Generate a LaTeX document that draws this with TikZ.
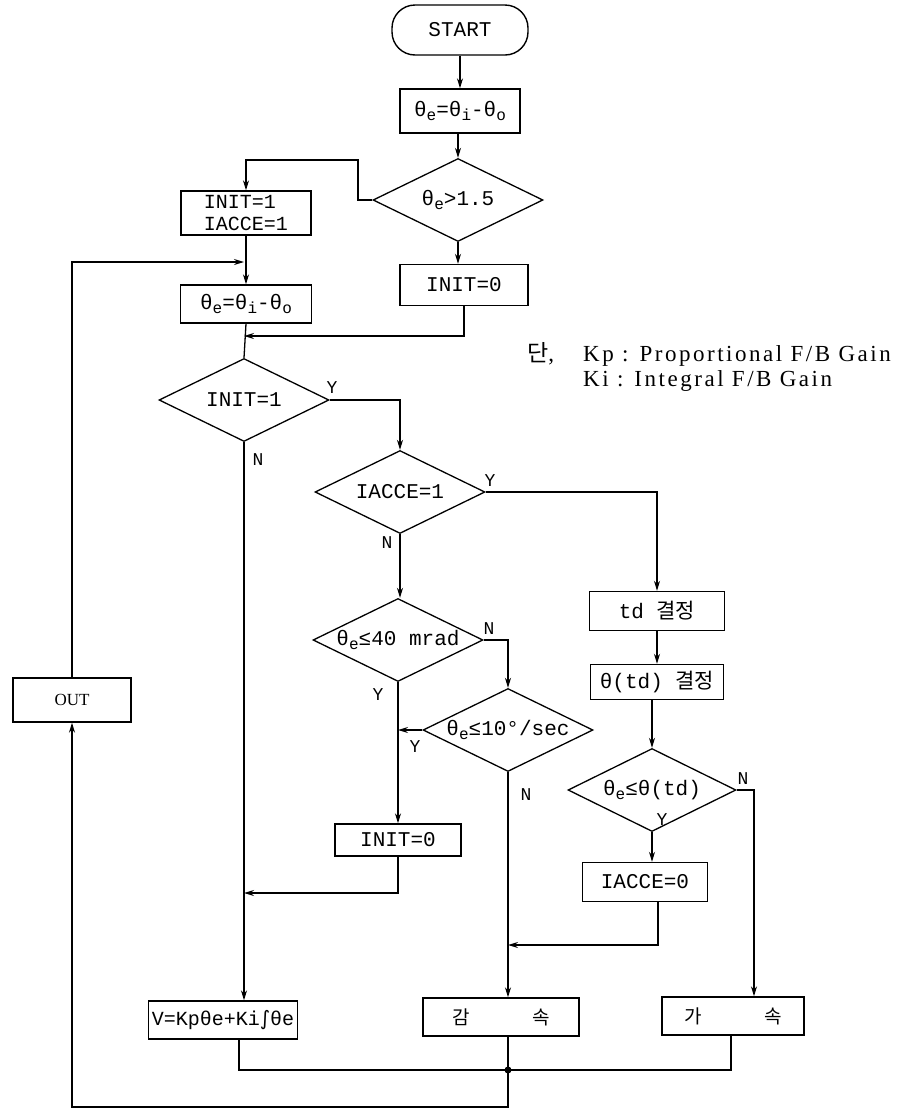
\documentclass[tikz,border=0pt]{standalone}
\usepackage{fontspec}
\setmainfont{Liberation Serif}
\setmonofont{Liberation Mono}
\newfontfamily\kr{Noto Sans CJK KR}
\newfontfamily\dvs{DejaVu Sans}
\newfontfamily\notefont[LetterSpace=11]{Liberation Serif}
\usetikzlibrary{shapes.geometric,arrows.meta,calc}
\newcommand{\thsub}[1]{θ\raisebox{-0.4ex}{\fontsize{16}{18}\selectfont #1}}
\tikzset{
  flow/.style={line width=1.3pt, draw=black},
  arr/.style={flow, -{Stealth[length=10pt,width=6pt]}},
  pbox/.style={draw, line width=1.4pt, rectangle, inner sep=0pt,
    font=\fontsize{21}{23}\selectfont\ttfamily},
  startbox/.style={pbox, rounded corners=23pt},
  dia/.style={draw, line width=1.3pt, diamond, inner sep=0pt,
    minimum width=170pt, minimum height=83pt,
    font=\fontsize{21}{23}\selectfont\ttfamily},
  lab/.style={font=\fontsize{18}{20}\selectfont\ttfamily},
  notetext/.style={anchor=west, inner sep=0pt, font=\fontsize{23}{26}\selectfont\notefont}
}
\begin{document}
\begin{tikzpicture}[x=1pt,y=-1pt]
\useasboundingbox (0,0) rectangle (916,1109);
% nodes
\node[startbox, minimum width=136pt, minimum height=50pt] (start) at (460,30) {START};
\node[pbox, minimum width=120pt, minimum height=44pt] (b1) at (460,111) {\thsub{e}=\thsub{i}-\thsub{o}};
\node[dia] (d1) at (458,200) {\makebox[0pt]{\thsub{e}>1.5}};
\node[pbox, minimum width=128pt, minimum height=41pt] (b2) at (464,285) {INIT=0};
\node[pbox, minimum width=130pt, minimum height=44pt, align=left, font=\fontsize{20}{22}\selectfont\ttfamily] (b3) at (246,213) {INIT=1\\IACCE=1};
\node[pbox, minimum width=131pt, minimum height=38pt] (b4) at (246,304) {\thsub{e}=\thsub{i}-\thsub{o}};
\node[dia] (d2) at (244,400) {\makebox[0pt]{INIT=1}};
\node[dia] (d3) at (400,492) {\makebox[0pt]{IACCE=1}};
\node[dia] (d4) at (398,640) {\makebox[0pt]{\thsub{e}≤40 mrad}};
\node[dia] (d5) at (508,730) {\makebox[0pt]{\thsub{e}≤10°/sec}};
\node[pbox, minimum width=126pt, minimum height=32pt] (b5) at (398,840) {INIT=0};
\node[pbox, minimum width=135pt, minimum height=39pt] (b6) at (657,611) {td {\kr 결정}};
\node[pbox, minimum width=133pt, minimum height=35pt] (b7) at (657,682) {θ(td) {\kr 결정}};
\node[dia, minimum width=168pt] (d6) at (652,790) {\makebox[0pt]{\thsub{e}≤θ(td)}};
\node[pbox, minimum width=125pt, minimum height=39pt] (b8) at (645,882) {IACCE=0};
\node[pbox, minimum width=149pt, minimum height=38pt, font=\fontsize{20}{22}\selectfont\ttfamily] (v) at (223,1020) {V=Kpθe+Ki{\dvs ∫}θe};
\node[pbox, minimum width=156pt, minimum height=38pt, font=\fontsize{19}{22}\selectfont\kr] (dec) at (501,1017) {감\hspace{62pt}속};
\node[pbox, minimum width=142pt, minimum height=38pt, font=\fontsize{19}{22}\selectfont\kr] (acc) at (733,1016) {가\hspace{62pt}속};
\node[pbox, minimum width=118pt, minimum height=44pt, font=\fontsize{17}{20}\selectfont\rmfamily] (out) at (72,700) {OUT};
\coordinate (J) at (508,1070);
\coordinate (k1) at (358,160);
\coordinate (m0) at (244,262);
\coordinate (m1) at (244,336);
\coordinate (m2) at (244,893);
\coordinate (m3) at (508,945);
\coordinate (a1) at (754,0);
\coordinate (bot) at (508,1107);
% connectors
\draw[arr] (start.south) -- (b1.north);
\draw[arr] (d1.north |- b1.south) -- (d1.north);
\draw[arr] (d1.south) -- (d1.south |- b2.north);
\draw[arr] (d1.west) -| (k1) -| (b3.north);
\draw[arr] (out.north) |- (m0);
\draw[arr] (b3.south) -- (b4.north);
\draw[flow] (b4.south) -- (d2.north);
\draw[arr] (b2.south) |- (m1);
\draw[arr] (d2.east) -| (d3.north);
\draw[arr] (d2.south) -- (d2.south |- v.north);
\draw[arr] (d3.south) -- (d3.south |- d4.north);
\draw[arr] (d3.east) -| (b6.north);
\draw[arr] (d4.east) -| (d5.north);
\draw[arr] (d4.south) -- (d4.south |- b5.north);
\draw[arr] (d5.west) -- (d5.west -| d4.south);
\draw[arr] (d5.south) -- (d5.south |- dec.north);
\draw[arr] (b5.south) |- (m2);
\draw[arr] (b6.south) -- (b7.north);
\draw[arr] (d6.north |- b7.south) -- (d6.north);
\draw[arr] (d6.south) -- (d6.south |- b8.north);
\draw[arr] (d6.east) -| (a1 |- acc.north);
\draw[arr] ($(b8.south)+(13,0)$) |- (m3);
\draw[flow] ($(v.south)+(16,0)$) |- (J);
\draw[flow] ($(acc.south)+(-2,0)$) |- (J);
\draw[flow] (J |- dec.south) -- (J);
\draw[arr] (J) -- (bot) -| (out.south);
\fill (J) circle (3.5pt);
% labels
\node[lab] (yd2) at (332,388) {Y};
\node[lab] (nd2) at (258,460) {N};
\node[lab] (yd3) at (490,481) {Y};
\node[lab] (nd3) at (387,543) {N};
\node[lab] (nd4) at (489,629) {N};
\node[lab] (yd4) at (378,695) {Y};
\node[lab] (yd5) at (415,747) {Y};
\node[lab] (nd5) at (526,795) {N};
\node[lab] (nd6) at (743,779) {N};
\node[lab] (yd6) at (662,820) {Y};
% note
\node[notetext] (n1) at (527,354) {\makebox[56pt][l]{{\kr 단},}Kp : Proportional F/B Gain};
\node[notetext] (n2) at (583,381) {Ki : Integral F/B Gain};
\end{tikzpicture}
\end{document}
